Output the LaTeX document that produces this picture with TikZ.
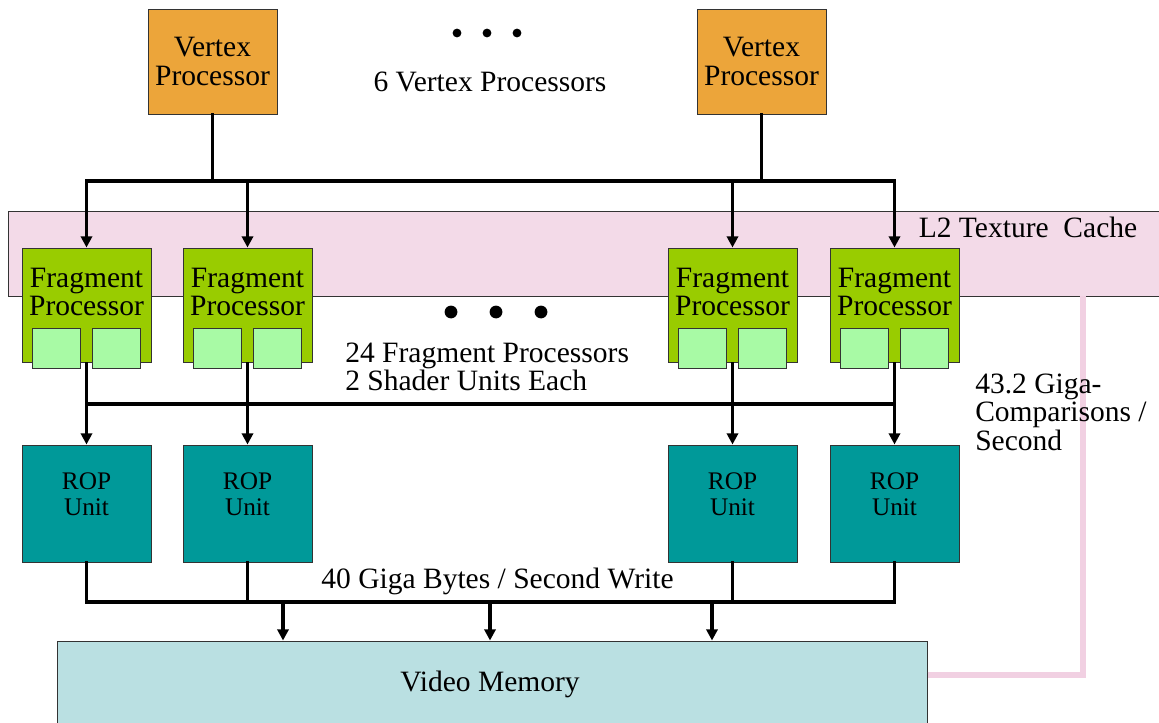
\documentclass[tikz,border=0pt]{standalone}
\usepackage{fontspec}
\setmainfont{Liberation Serif}
\usetikzlibrary{positioning,arrows.meta,calc}
\definecolor{vertexcolor}{RGB}{236,165,58}
\definecolor{fragcolor}{RGB}{153,204,0}
\definecolor{shadercolor}{RGB}{168,250,165}
\definecolor{ropcolor}{RGB}{0,153,153}
\definecolor{memcolor}{RGB}{186,224,226}
\definecolor{cachecolor}{RGB}{243,218,232}
\definecolor{linkcolor}{RGB}{241,208,226}
\newcommand{\bigtext}{\fontsize{21}{20.3}\selectfont}
\newcommand{\roptext}{\fontsize{18}{18.5}\selectfont}

\begin{document}
\begin{tikzpicture}[
    box/.style={rectangle, draw=black!80, line width=0.7pt, inner sep=0pt},
    vertexbox/.style={box, fill=vertexcolor, minimum width=3.225cm, minimum height=2.625cm, align=center, font=\bigtext},
    fragbox/.style={box, fill=fragcolor, minimum width=3.225cm, minimum height=2.85cm},
    shaderbox/.style={box, fill=shadercolor, minimum width=1.2cm, minimum height=1cm},
    ropbox/.style={box, fill=ropcolor, minimum width=3.225cm, minimum height=2.925cm},
    txt/.style={font=\bigtext, align=center, inner sep=0pt},
    roptxt/.style={font=\roptext, align=center, inner sep=0pt},
    bus/.style={line width=2.6pt, line cap=rect},
    flow/.style={line width=2.6pt, -{Triangle[length=8pt, width=8pt]}},
    link/.style={line width=4.5pt, linkcolor}
]
\useasboundingbox (0,0) rectangle (28.975,-18.075);
\clip (0,0) rectangle (28.975,-18.075);

% L2 cache band
\node[box, fill=cachecolor, minimum width=29.05cm, minimum height=2.125cm] (cache) at (14.725,-6.3375) {};
\node[txt] (cachetext) at (25.7,-5.675) {L2 Texture~~Cache};

% Vertex processors
\node[vertexbox] (vp1) at (5.3125,-1.5375) {Vertex\\Processor};
\node[vertexbox] (vp2) at (19.0375,-1.5375) {Vertex\\Processor};
\foreach \x in {11.425,12.175,12.925}
    \fill (\x,-0.825) circle (0.11);
\node[txt] (vpcount) at (12.25,-2.05) {6 Vertex Processors};

% Fragment processors and ROP units
\foreach \n/\x in {1/2.1625, 2/6.1875, 3/18.3125, 4/22.3625} {
    \node[fragbox] (fp\n) at (\x,-7.625) {};
    \node[txt] (fp\n-text) at (\x,-7.3) {Fragment\\Processor};
    \node[shaderbox, anchor=south east] (fp\n-a) at ([xshift=-0.14cm, yshift=-0.15cm]fp\n.south) {};
    \node[shaderbox, anchor=south west] (fp\n-b) at ([xshift=0.14cm, yshift=-0.15cm]fp\n.south) {};
    \node[ropbox] (rop\n) at (\x,-12.5875) {};
    \node[roptxt] (rop\n-text) at (\x,-12.35) {ROP\\Unit};
}
\foreach \x in {11.275,12.4,13.525}
    \fill (\x,-7.8) circle (0.16);
\node[txt, anchor=west, align=left] (fpcount) at (8.625,-9.175) {24 Fragment Processors\\2 Shader Units Each};

% Video memory
\node[box, fill=memcolor, minimum width=21.75cm, minimum height=2.15cm] (vm) at (12.3,-17.1) {};
\node[txt] (vmtext) at (12.25,-17.1) {Video Memory};
\node[txt] (wrate) at (12.4375,-14.525) {40 Giga Bytes / Second Write};

% Memory to cache link
\coordinate (lk) at (27.075,-16.875);
\draw[link] (vm.east |- lk) -| (lk |- cache.south);
\node[txt, anchor=west, align=left] (zrate) at (24.375,-10.3) {43.2 Giga-\\Comparisons /\\Second};

% Vertex bus
\coordinate (vbus) at (0,-4.525);
\draw[bus] (vp1.south) |- (vp2.south |- vbus) -- (vp2.south);
\draw[bus] (fp1.north |- vbus) -- (fp4.north |- vbus);
\foreach \n in {1,...,4}
    \draw[flow] (fp\n.north |- vbus) -- (fp\n.north);

% Fragment bus
\coordinate (fbus) at (0,-10.1);
\foreach \n in {1,...,4}
    \draw[flow] (fp\n.south) -- (rop\n.north);
\draw[bus] (fp1.south |- fbus) -- (fp4.south |- fbus);

% ROP bus to memory
\coordinate (rbus) at (0,-15.05);
\foreach \n in {1,...,4}
    \draw[bus] (rop\n.south) -- (rop\n.south |- rbus);
\draw[bus] (rop1.south |- rbus) -- (rop4.south |- rbus);
\coordinate (w1) at (7.075,-15.05);
\coordinate (w2) at (12.25,-15.05);
\coordinate (w3) at (17.8,-15.05);
\foreach \n in {1,2,3}
    \draw[flow] (w\n) -- (w\n |- vm.north);

\end{tikzpicture}
\end{document}
